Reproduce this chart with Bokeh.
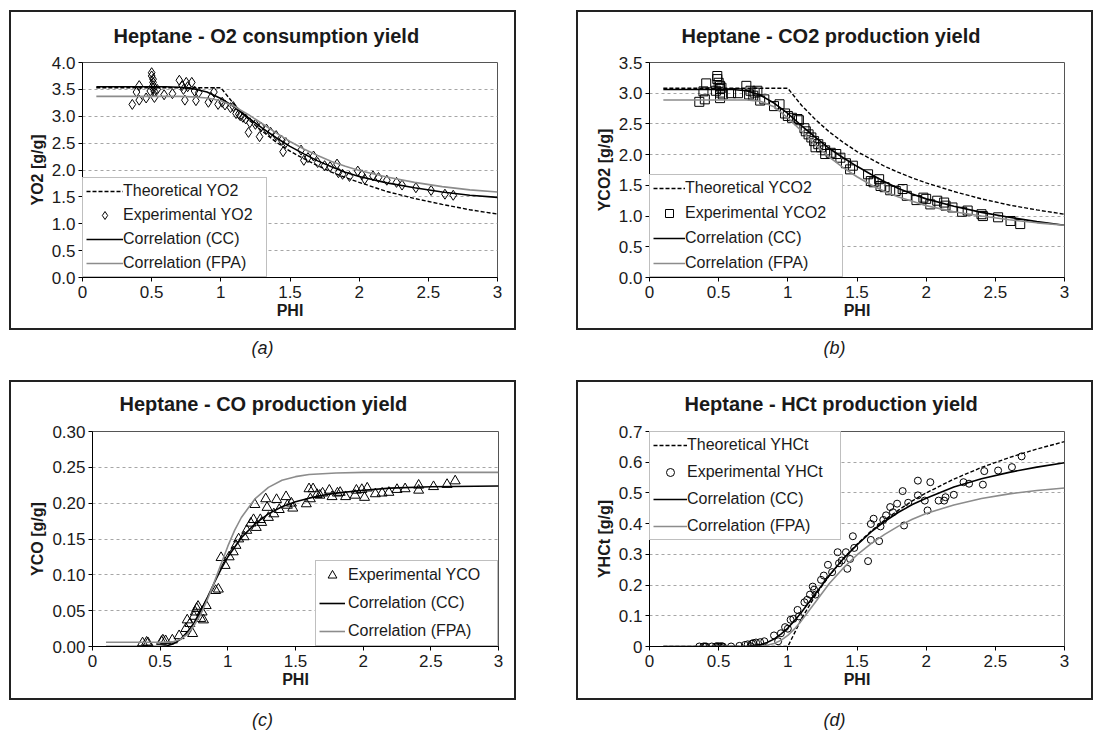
from bokeh.plotting import figure
from bokeh.models import (Range1d, FixedTicker, NumeralTickFormatter, CustomJSTickFormatter,
                          Legend, LegendItem, Title, Div, Spacer)
from bokeh.layouts import row, column
from bokeh.embed import file_html
from bokeh.resources import INLINE

FONT = "Liberation Sans"
TXT = "#1a1a1a"
GRAY = "#8c8c8c"

# ---------------- (a) O2 consumption yield ----------------
a_exp_phi = [0.36, 0.39, 0.41, 0.41, 0.46, 0.49, 0.50, 0.50, 0.51, 0.51, 0.51, 0.51, 0.52, 0.52, 0.54,
             0.59, 0.65, 0.70, 0.72, 0.73, 0.74, 0.75, 0.76, 0.79, 0.81, 0.82, 0.84, 0.91, 0.93, 0.95,
             0.98, 1.01, 1.03, 1.07, 1.09, 1.11, 1.13, 1.14, 1.16, 1.18, 1.20, 1.21, 1.25, 1.28, 1.29,
             1.33, 1.36, 1.40, 1.44, 1.45, 1.47, 1.58, 1.60, 1.63, 1.67, 1.70, 1.75, 1.79, 1.84, 1.85,
             1.88, 1.93, 1.99, 2.02, 2.04, 2.10, 2.14, 2.20, 2.27, 2.31, 2.41, 2.52, 2.62, 2.68]
a_exp_y = [3.22, 3.45, 3.57, 3.30, 3.34, 3.47, 3.81, 3.75, 3.69, 3.63, 3.57, 3.52, 3.46, 3.35, 3.50,
           3.40, 3.42, 3.67, 3.57, 3.50, 3.30, 3.63, 3.55, 3.63, 3.47, 3.29, 3.44, 3.26, 3.35, 3.45,
           3.22, 3.26, 3.21, 3.16, 3.18, 3.05, 3.04, 3.01, 2.98, 2.95, 2.70, 2.88, 2.85, 2.62, 2.80,
           2.76, 2.70, 2.64, 2.55, 2.34, 2.51, 2.37, 2.18, 2.23, 2.26, 2.14, 2.08, 2.06, 2.11, 1.95,
           1.92, 1.88, 1.98, 1.91, 1.83, 1.89, 1.86, 1.81, 1.77, 1.72, 1.67, 1.62, 1.55, 1.53]
a_theo_phi = [0.1, 1.0, 1.1, 1.2, 1.3, 1.4, 1.5, 1.6, 1.7, 1.8, 1.9, 2.0, 2.2, 2.4, 2.6, 2.8, 3.0]
a_theo_y = [3.53, 3.53, 3.21, 2.94, 2.72, 2.52, 2.35, 2.21, 2.08, 1.96, 1.86, 1.77, 1.60, 1.47, 1.36, 1.26, 1.18]
a_cc_phi = [0.1, 0.6, 0.7, 0.8, 0.9, 1.0, 1.1, 1.2, 1.3, 1.4, 1.5, 1.6, 1.7, 1.8, 1.9, 2.0, 2.2, 2.4, 2.6, 2.8, 3.0]
a_cc_y = [3.55, 3.55, 3.54, 3.51, 3.45, 3.33, 3.17, 2.97, 2.78, 2.60, 2.44, 2.30, 2.17, 2.06, 1.96, 1.88, 1.76, 1.67, 1.59, 1.53, 1.49]
a_fpa_phi = [0.1, 0.7, 0.8, 0.9, 1.0, 1.1, 1.2, 1.3, 1.4, 1.5, 1.6, 1.7, 1.8, 1.9, 2.0, 2.2, 2.4, 2.6, 2.8, 3.0]
a_fpa_y = [3.37, 3.37, 3.36, 3.34, 3.29, 3.18, 3.03, 2.86, 2.69, 2.53, 2.39, 2.27, 2.16, 2.07, 1.99, 1.87, 1.77, 1.69, 1.63, 1.59]

# ---------------- (b) CO2 production yield ----------------
b_exp_phi = [0.36, 0.39, 0.40, 0.41, 0.48, 0.49, 0.49, 0.50, 0.51, 0.51, 0.51, 0.51, 0.52, 0.53, 0.59,
             0.64, 0.70, 0.72, 0.73, 0.75, 0.76, 0.78, 0.80, 0.83, 0.90, 0.94, 0.98, 1.00, 1.03, 1.07,
             1.08, 1.12, 1.13, 1.15, 1.17, 1.19, 1.20, 1.22, 1.24, 1.27, 1.27, 1.31, 1.35, 1.38, 1.42,
             1.45, 1.47, 1.58, 1.60, 1.62, 1.66, 1.67, 1.70, 1.74, 1.78, 1.83, 1.86, 1.93, 1.98, 2.00,
             2.03, 2.08, 2.13, 2.14, 2.19, 2.26, 2.30, 2.40, 2.41, 2.52, 2.61, 2.68]
b_exp_y = [2.86, 3.03, 2.90, 3.16, 3.04, 3.28, 3.23, 3.17, 3.12, 3.07, 3.01, 2.92, 3.09, 2.98, 3.00,
           3.00, 3.12, 2.98, 3.04, 2.96, 3.01, 3.04, 2.88, 2.90, 2.79, 2.82, 2.67, 2.63, 2.60, 2.58,
           2.56, 2.43, 2.38, 2.33, 2.28, 2.22, 2.12, 2.17, 2.12, 2.07, 2.01, 2.03, 2.01, 1.95, 1.86,
           1.76, 1.82, 1.68, 1.57, 1.55, 1.60, 1.49, 1.47, 1.42, 1.41, 1.44, 1.33, 1.26, 1.30, 1.28,
           1.19, 1.25, 1.22, 1.17, 1.14, 1.07, 1.09, 1.03, 1.00, 0.98, 0.92, 0.87]
b_theo_phi = [0.1, 1.0, 1.1, 1.2, 1.3, 1.4, 1.5, 1.6, 1.7, 1.8, 1.9, 2.0, 2.2, 2.4, 2.6, 2.8, 3.0]
b_theo_y = [3.08, 3.08, 2.80, 2.57, 2.37, 2.20, 2.05, 1.93, 1.81, 1.71, 1.62, 1.54, 1.40, 1.28, 1.18, 1.10, 1.03]
b_cc_phi = [0.1, 0.6, 0.7, 0.8, 0.9, 1.0, 1.1, 1.2, 1.3, 1.4, 1.5, 1.6, 1.7, 1.8, 1.9, 2.0, 2.2, 2.4, 2.6, 2.8, 3.0]
b_cc_y = [3.06, 3.06, 3.04, 2.97, 2.84, 2.67, 2.47, 2.28, 2.10, 1.95, 1.81, 1.68, 1.56, 1.45, 1.36, 1.28, 1.16, 1.06, 0.98, 0.91, 0.85]
b_fpa_phi = [0.1, 0.7, 0.8, 0.9, 1.0, 1.1, 1.2, 1.3, 1.4, 1.5, 1.6, 1.7, 1.8, 1.9, 2.0, 2.2, 2.4, 2.6, 2.8, 3.0]
b_fpa_y = [2.89, 2.89, 2.87, 2.78, 2.60, 2.38, 2.16, 1.96, 1.79, 1.64, 1.51, 1.40, 1.31, 1.24, 1.17, 1.07, 1.00, 0.94, 0.89, 0.85]

# ---------------- (c) CO production yield ----------------
c_exp_phi = [0.37, 0.40, 0.41, 0.51, 0.52, 0.54, 0.59, 0.64, 0.69, 0.70, 0.72, 0.74, 0.75, 0.76, 0.77,
             0.78, 0.80, 0.81, 0.82, 0.84, 0.91, 0.93, 0.95, 0.98, 1.01, 1.04, 1.06, 1.08, 1.12, 1.14,
             1.17, 1.19, 1.20, 1.21, 1.24, 1.25, 1.28, 1.29, 1.30, 1.34, 1.36, 1.38, 1.43, 1.44, 1.47,
             1.48, 1.58, 1.60, 1.61, 1.63, 1.66, 1.68, 1.70, 1.75, 1.77, 1.81, 1.83, 1.87, 1.94, 1.95,
             1.99, 2.01, 2.03, 2.09, 2.14, 2.19, 2.25, 2.31, 2.41, 2.41, 2.52, 2.62, 2.68]
c_exp_y = [0.005, 0.006, 0.005, 0.007, 0.009, 0.008, 0.009, 0.015, 0.025, 0.037, 0.032, 0.018, 0.042, 0.048, 0.053,
           0.056, 0.039, 0.048, 0.037, 0.057, 0.078, 0.080, 0.124, 0.113, 0.125, 0.132, 0.141, 0.150, 0.153, 0.162,
           0.172, 0.177, 0.198, 0.166, 0.177, 0.173, 0.206, 0.194, 0.180, 0.185, 0.205, 0.191, 0.209, 0.197, 0.200,
           0.193, 0.199, 0.220, 0.206, 0.220, 0.212, 0.211, 0.214, 0.218, 0.209, 0.214, 0.215, 0.209, 0.211, 0.218,
           0.219, 0.208, 0.221, 0.213, 0.214, 0.215, 0.219, 0.220, 0.225, 0.218, 0.223, 0.226, 0.231]
c_cc_phi = [0.1, 0.5, 0.55, 0.6, 0.65, 0.7, 0.75, 0.8, 0.85, 0.9, 0.95, 1.0, 1.1, 1.2, 1.3, 1.4, 1.5, 1.6,
            1.7, 1.8, 2.0, 2.2, 2.5, 3.0]
c_cc_y = [0.0, 0.0, 0.001, 0.004, 0.010, 0.020, 0.033, 0.050, 0.069, 0.089, 0.108, 0.125, 0.152, 0.171,
          0.185, 0.195, 0.202, 0.207, 0.211, 0.214, 0.218, 0.221, 0.223, 0.224]
c_fpa_phi = [0.1, 0.55, 0.6, 0.65, 0.7, 0.75, 0.8, 0.85, 0.9, 0.95, 1.0, 1.05, 1.1, 1.2, 1.3, 1.4, 1.5,
             1.6, 1.8, 2.0, 2.5, 3.0]
c_fpa_y = [0.006, 0.006, 0.007, 0.010, 0.017, 0.029, 0.045, 0.066, 0.090, 0.115, 0.140, 0.162, 0.180,
           0.206, 0.222, 0.232, 0.237, 0.240, 0.242, 0.243, 0.243, 0.243]

# ---------------- (d) HCt production yield ----------------
d_exp_phi = [0.36, 0.39, 0.40, 0.41, 0.45, 0.48, 0.49, 0.50, 0.51, 0.52, 0.53, 0.59, 0.65, 0.69, 0.71,
             0.73, 0.74, 0.75, 0.77, 0.80, 0.83, 0.90, 0.93, 0.95, 0.98, 1.00, 1.02, 1.04, 1.07, 1.08,
             1.12, 1.14, 1.16, 1.18, 1.19, 1.20, 1.24, 1.26, 1.29, 1.32, 1.36, 1.37, 1.39, 1.42, 1.43,
             1.45, 1.47, 1.48, 1.58, 1.60, 1.60, 1.62, 1.66, 1.67, 1.69, 1.71, 1.74, 1.76, 1.79, 1.83,
             1.84, 1.87, 1.94, 1.94, 1.99, 2.01, 2.03, 2.09, 2.13, 2.14, 2.20, 2.27, 2.31, 2.41, 2.42,
             2.52, 2.62, 2.69]
d_exp_y = [0.000, 0.000, 0.000, 0.000, 0.000, 0.000, 0.001, 0.000, 0.000, 0.001, 0.000, 0.000, 0.002, 0.005, 0.007,
           0.001, 0.009, 0.011, 0.013, 0.014, 0.017, 0.036, 0.017, 0.043, 0.063, 0.058, 0.087, 0.090, 0.119, 0.098,
           0.144, 0.152, 0.169, 0.195, 0.185, 0.169, 0.217, 0.231, 0.266, 0.242, 0.307, 0.271, 0.280, 0.307, 0.253,
           0.285, 0.359, 0.321, 0.278, 0.399, 0.347, 0.416, 0.343, 0.391, 0.412, 0.427, 0.454, 0.437, 0.465, 0.506,
           0.394, 0.468, 0.492, 0.540, 0.475, 0.443, 0.535, 0.475, 0.475, 0.486, 0.494, 0.535, 0.530, 0.527, 0.571,
           0.573, 0.584, 0.619]
d_theo_phi = [0.1, 1.0, 1.1, 1.2, 1.3, 1.4, 1.5, 1.6, 1.7, 1.8, 1.9, 2.0, 2.2, 2.4, 2.6, 2.8, 3.0]
d_theo_y = [0.0, 0.0, 0.091, 0.167, 0.231, 0.286, 0.333, 0.375, 0.412, 0.444, 0.474, 0.500, 0.545, 0.583,
            0.615, 0.643, 0.667]
d_cc_phi = [0.1, 0.7, 0.8, 0.85, 0.9, 0.95, 1.0, 1.05, 1.1, 1.2, 1.3, 1.4, 1.5, 1.6, 1.7, 1.8, 1.9, 2.0,
            2.2, 2.4, 2.6, 2.8, 3.0]
d_cc_y = [0.0, 0.0, 0.006, 0.013, 0.024, 0.040, 0.060, 0.085, 0.112, 0.172, 0.232, 0.285, 0.331, 0.372,
          0.407, 0.437, 0.462, 0.483, 0.519, 0.546, 0.567, 0.584, 0.598]
d_fpa_phi = [0.1, 0.8, 0.85, 0.9, 0.95, 1.0, 1.05, 1.1, 1.2, 1.3, 1.4, 1.5, 1.6, 1.7, 1.8, 1.9, 2.0, 2.2,
             2.4, 2.6, 2.8, 3.0]
d_fpa_y = [0.0, 0.0, 0.004, 0.010, 0.020, 0.036, 0.058, 0.085, 0.145, 0.205, 0.255, 0.298, 0.334, 0.365,
           0.392, 0.414, 0.433, 0.461, 0.482, 0.497, 0.508, 0.516]

x_ticks = [0, 0.5, 1, 1.5, 2, 2.5, 3]
captions = ["(a)", "(b)", "(c)", "(d)"]


def make_panel(width, height, left, top, frame_w, ymax, yticks, yformatter, ylabel,
               title, title_offset, gap_standoff, series, legend_loc, lg):
    right = width - left - frame_w
    bottom = height - top - 215
    p = figure(width=width, height=height, x_range=Range1d(0, 3), y_range=Range1d(0, ymax),
               output_backend="svg", toolbar_location=None,
               min_border_left=left, min_border_right=right,
               min_border_top=top, min_border_bottom=bottom,
               background_fill_color="white", border_fill_color="white",
               styles={"box-shadow": "0 0 0 2px #222222"})
    p.title = Title(text=title, align="left", offset=title_offset, standoff=6,
                    text_font=FONT, text_font_size="20px", text_font_style="bold",
                    text_color=TXT)
    # small white panel between the frame and the title, used as a vertical gap
    p.add_layout(Title(text=".", text_font_size="4px", text_color="white",
                       standoff=gap_standoff), "above")

    p.outline_line_color = "#555555"
    p.outline_line_width = 1
    p.xgrid.visible = False
    p.ygrid.grid_line_color = "#a6a6a6"
    p.ygrid.grid_line_dash = "3 3"
    p.ygrid.grid_line_width = 1

    xax = p.below[0]
    yax = p.left[0]
    xax.ticker = FixedTicker(ticks=x_ticks)
    yax.ticker = FixedTicker(ticks=yticks)
    yax.formatter = yformatter
    for ax in (xax, yax):
        ax.axis_line_color = "black"
        ax.major_tick_line_color = "black"
        ax.major_tick_in = 0
        ax.major_tick_out = 4
        ax.minor_tick_line_color = None
        ax.major_label_text_font = FONT
        ax.major_label_text_font_size = "17px"
        ax.major_label_text_color = TXT
        ax.axis_label_text_font = FONT
        ax.axis_label_text_font_size = "16px"
        ax.axis_label_text_font_style = "bold"
        ax.axis_label_text_color = TXT
    xax.axis_label = "PHI"
    xax.major_label_standoff = 4
    xax.axis_label_standoff = 1
    yax.axis_label = ylabel
    yax.major_label_standoff = 3
    yax.axis_label_standoff = 3

    items = []
    for s in series:
        kind, label, xs, ys = s
        if kind == "theo":
            r = p.line(xs, ys, line_color="black", line_width=1.4, line_dash="4 2")
        elif kind == "cc":
            r = p.line(xs, ys, line_color="black", line_width=1.6)
        elif kind == "fpa":
            r = p.line(xs, ys, line_color=GRAY, line_width=1.6)
        else:
            r = p.scatter(xs, ys, marker=kind[0], size=kind[1], fill_color=None,
                          line_color="black", line_width=1)
        items.append(LegendItem(label=label, renderers=[r]))

    legend = Legend(items=items, location=legend_loc, margin=0,
                    padding=lg["padding"], spacing=lg["spacing"],
                    glyph_width=lg["glyph_width"], glyph_height=lg["row"],
                    label_height=lg["row"], label_width=lg["label_width"],
                    label_standoff=lg["standoff"],
                    label_text_font=FONT, label_text_font_size="16px",
                    label_text_color=TXT,
                    border_line_color="#808080", border_line_width=1,
                    background_fill_color="white", background_fill_alpha=1.0)
    p.add_layout(legend)
    return p


def caption(text, width, height):
    return Div(text=(f'<div style="width:{width}px;height:{height}px;line-height:{height}px;'
                     f'text-align:center;font-family:\'Liberation Sans\',Arial,sans-serif;'
                     f'font-style:italic;font-size:18px;color:#1a1a1a">{text}</div>'),
               width=width, height=height, margin=0)


lg_a = dict(padding=3, spacing=4, glyph_width=37, row=20, label_width=140, standoff=0)
lg_b = dict(padding=3, spacing=5, glyph_width=32, row=20, label_width=154, standoff=0)
lg_c = dict(padding=3, spacing=6, glyph_width=26, row=22, label_width=146, standoff=3)
lg_d = dict(padding=3, spacing=7, glyph_width=34, row=20, label_width=150, standoff=0)

fmt1 = NumeralTickFormatter(format="0.0")
fmt2 = NumeralTickFormatter(format="0.00")
fmt_d = CustomJSTickFormatter(code="return tick == 0 ? '0' : tick.toFixed(1);")

pa = make_panel(503, 316, 71, 50, 415, 4.0, [0, 0.5, 1, 1.5, 2, 2.5, 3, 3.5, 4], fmt1, "YO2 [g/g]",
                "Heptane - O2 consumption yield", 31, 8,
                [("theo", "Theoretical YO2", a_theo_phi, a_theo_y),
                 (("diamond", 10), "Experimental YO2", a_exp_phi, a_exp_y),
                 ("cc", "Correlation (CC)", a_cc_phi, a_cc_y),
                 ("fpa", "Correlation (FPA)", a_fpa_phi, a_fpa_y)],
                "bottom_left", lg_a)

pb = make_panel(513, 316, 71, 50, 415, 3.5, [0, 0.5, 1, 1.5, 2, 2.5, 3, 3.5], fmt1, "YCO2 [g/g]",
                "Heptane - CO2 production yield", 32, 8,
                [("theo", "Theoretical YCO2", b_theo_phi, b_theo_y),
                 (("square", 9), "Experimental YCO2", b_exp_phi, b_exp_y),
                 ("cc", "Correlation (CC)", b_cc_phi, b_cc_y),
                 ("fpa", "Correlation (FPA)", b_fpa_phi, b_fpa_y)],
                "bottom_left", lg_b)

pc = make_panel(503, 316, 81, 49, 406, 0.30, [0, 0.05, 0.1, 0.15, 0.2, 0.25, 0.3], fmt2, "YCO [g/g]",
                "Heptane - CO production yield", 27, 9,
                [(("triangle", 10), "Experimental YCO", c_exp_phi, c_exp_y),
                 ("cc", "Correlation (CC)", c_cc_phi, c_cc_y),
                 ("fpa", "Correlation (FPA)", c_fpa_phi, c_fpa_y)],
                "bottom_right", lg_c)

pd_ = make_panel(513, 316, 71, 49, 415, 0.7, [0, 0.1, 0.2, 0.3, 0.4, 0.5, 0.6, 0.7], fmt_d, "YHCt [g/g]",
                 "Heptane - HCt production yield", 35, 9,
                 [("theo", "Theoretical YHCt", d_theo_phi, d_theo_y),
                  (("circle", 7), "Experimental YHCt", d_exp_phi, d_exp_y),
                  ("cc", "Correlation (CC)", d_cc_phi, d_cc_y),
                  ("fpa", "Correlation (FPA)", d_fpa_phi, d_fpa_y)],
                 "top_left", lg_d)


def hgap(w):
    return Spacer(width=w, height=1, margin=0)


layout = column(
    Spacer(width=1, height=12, margin=0),
    row(hgap(11), pa, hgap(64), pb, spacing=0),
    row(hgap(11), caption(captions[0], 503, 40), hgap(64), caption(captions[1], 513, 40), spacing=0),
    Spacer(width=1, height=14, margin=0),
    row(hgap(11), pc, hgap(64), pd_, spacing=0),
    row(hgap(11), caption(captions[2], 503, 44), hgap(64), caption(captions[3], 513, 44), spacing=0),
    spacing=0)

with open("out.html", "w") as f:
    f.write(file_html(layout, INLINE, title="Heptane yields"))
